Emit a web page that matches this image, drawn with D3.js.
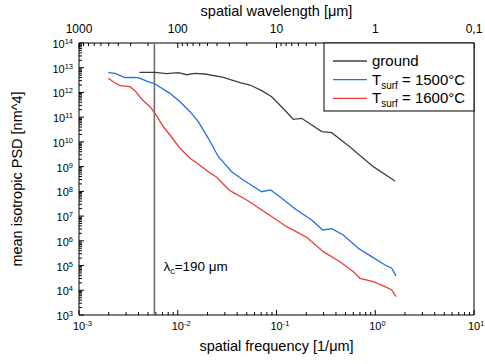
<!DOCTYPE html>
<html>
<head>
<meta charset="utf-8">
<script src="https://cdn.jsdelivr.net/npm/d3@7"></script>
<style>
  body { margin: 0; background: #fff; }
  text { font-family: "Liberation Sans", Arial, sans-serif; fill: #000; }
</style>
</head>
<body>
<div id="chart"></div>
<script>
// spatial frequency [1/um] and PSD [nm^4]
const groundFreq = [0.00408, 0.00589, 0.00773, 0.0101, 0.01233, 0.01496, 0.01888, 0.0289, 0.0427, 0.054, 0.0708, 0.0893, 0.108, 0.148, 0.18, 0.287, 0.362, 0.555, 0.955, 1.585];
const groundPsd = [6.5e12, 6.5e12, 5.74e12, 6.3e12, 5.2e12, 5.96e12, 5.57e12, 4.1e12, 2.48e12, 2.0e12, 1.18e12, 6.7e11, 3.1e11, 8.2e10, 9.0e10, 2.6e10, 2.36e10, 6.2e9, 1.0e9, 2.63e8];

const t1500Freq = [0.00198, 0.00232, 0.00292, 0.00342, 0.00398, 0.00485, 0.00589, 0.00835, 0.01054, 0.0133, 0.01614, 0.0204, 0.0258, 0.0352, 0.0461, 0.0708, 0.0873, 0.108, 0.160, 0.227, 0.294, 0.362, 0.474, 0.673, 0.92, 1.256, 1.468, 1.622];
const t1500Psd = [6.3e12, 5.96e12, 3.95e12, 4.1e12, 3.95e12, 2.9e12, 2.2e12, 9.2e11, 4.2e11, 1.67e11, 6.6e10, 1.4e10, 2.52e9, 6.25e8, 2.88e8, 9.7e7, 1.14e8, 6.1e7, 1.77e7, 6.97e6, 2.74e6, 3.1e6, 1.72e6, 5.0e5, 2.29e5, 1.05e5, 7.8e4, 3.8e4];

const t1600Freq = [0.00198, 0.00222, 0.0026, 0.00328, 0.00369, 0.00432, 0.00524, 0.00612, 0.00715, 0.00835, 0.01054, 0.0133, 0.01614, 0.0204, 0.0248, 0.0325, 0.0352, 0.0499, 0.0796, 0.127, 0.202, 0.298, 0.44, 0.6, 0.702, 0.955, 1.256, 1.468, 1.622];
const t1600Psd = [3.74e12, 2.72e12, 1.88e12, 1.71e12, 1.18e12, 5.3e11, 2.65e11, 1.12e11, 4.1e10, 1.9e10, 5.5e9, 2.18e9, 1.28e9, 6.25e8, 3.7e8, 1.21e8, 9.7e7, 4.5e7, 1.3e7, 3.73e6, 1.39e6, 3.64e5, 1.43e5, 5.65e4, 3.05e4, 2.23e4, 1.4e4, 1.03e4, 5.5e3];

const seriesNames = ['ground', '1500', '1600'];
const seriesColors = ['#404040', '#1f6fe6', '#ec3b3b'];

// cut-off marker
const cutoffFreq = 0.0058;
const cutoffLabel = '=190 μm';

// axis ticks
const freqTickExp = [-3, -2, -1, 0, 1];
const psdTickExp = [3, 4, 5, 6, 7, 8, 9, 10, 11, 12, 13, 14];
const waveTicks = [1000, 100, 10, 1, 0.1];
const waveTickLabels = ['1000', '100', '10', '1', '0,1'];

const width = 485, height = 364;
const margin = {top: 43, right: 11, bottom: 49, left: 79};
const innerW = width - margin.left - margin.right;
const innerH = height - margin.top - margin.bottom;

const svg = d3.select('#chart').append('svg')
    .attr('width', width)
    .attr('height', height);

const g = svg.append('g')
    .attr('transform', 'translate(' + margin.left + ',' + margin.top + ')');

const x = d3.scaleLog().domain([1e-3, 1e1]).range([0, innerW]);
const y = d3.scaleLog().domain([1e3, 1e14]).range([innerH, 0]);
const xWave = d3.scaleLog().domain([1000, 0.1]).range([0, innerW]);

// minor ticks 2..9 for each decade
function minorTicks(scale) {
    const d = scale.domain();
    const lo = Math.min(d[0], d[1]), hi = Math.max(d[0], d[1]);
    const out = [];
    for (let e = Math.floor(Math.log10(lo)); e < Math.ceil(Math.log10(hi)); e++) {
        for (let m = 2; m <= 9; m++) {
            const v = m * Math.pow(10, e);
            if (v > lo && v < hi) out.push(v);
        }
    }
    return out;
}

function powerLabel(sel, exp) {
    sel.text('10');
    sel.append('tspan').attr('dy', -4).attr('font-size', 7.5).text(exp);
}

// bottom axis
const xAxis = g.append('g').attr('transform', 'translate(0,' + innerH + ')');
xAxis.append('line').attr('x1', 0).attr('x2', innerW).attr('stroke', '#000');
xAxis.selectAll('.major').data(freqTickExp).enter().append('line')
    .attr('x1', d => x(Math.pow(10, d))).attr('x2', d => x(Math.pow(10, d)))
    .attr('y1', 0).attr('y2', -5).attr('stroke', '#000');
xAxis.selectAll('.minor').data(minorTicks(x)).enter().append('line')
    .attr('x1', d => x(d)).attr('x2', d => x(d))
    .attr('y1', 0).attr('y2', -3).attr('stroke', '#000');
xAxis.selectAll('.lbl').data(freqTickExp).enter().append('text')
    .attr('x', d => x(Math.pow(10, d)) - 6).attr('y', 15)
    .attr('font-size', 11)
    .each(function(d) { powerLabel(d3.select(this), d); });

// left axis
const yAxis = g.append('g');
yAxis.append('line').attr('y1', 0).attr('y2', innerH).attr('stroke', '#000');
yAxis.selectAll('.major').data(psdTickExp).enter().append('line')
    .attr('y1', d => y(Math.pow(10, d))).attr('y2', d => y(Math.pow(10, d)))
    .attr('x1', 0).attr('x2', 5).attr('stroke', '#000');
yAxis.selectAll('.minor').data(minorTicks(y)).enter().append('line')
    .attr('y1', d => y(d)).attr('y2', d => y(d))
    .attr('x1', 0).attr('x2', 3).attr('stroke', '#000');
yAxis.selectAll('.lbl').data(psdTickExp).enter().append('text')
    .attr('x', -6).attr('y', d => y(Math.pow(10, d)) + 5)
    .attr('text-anchor', 'end').attr('font-size', 11)
    .each(function(d) { powerLabel(d3.select(this), d); });

// top axis (wavelength)
const topAxis = g.append('g');
topAxis.append('line').attr('x1', 0).attr('x2', innerW).attr('stroke', '#000');
topAxis.selectAll('.major').data(waveTicks).enter().append('line')
    .attr('x1', d => xWave(d)).attr('x2', d => xWave(d))
    .attr('y1', 0).attr('y2', 5).attr('stroke', '#000');
topAxis.selectAll('.minor').data(minorTicks(xWave)).enter().append('line')
    .attr('x1', d => xWave(d)).attr('x2', d => xWave(d))
    .attr('y1', 0).attr('y2', 3).attr('stroke', '#000');
topAxis.selectAll('.lbl').data(waveTicks).enter().append('text')
    .attr('x', d => xWave(d)).attr('y', -10)
    .attr('text-anchor', 'middle').attr('font-size', 12)
    .text((d, i) => waveTickLabels[i]);

// right axis
g.append('line').attr('x1', innerW).attr('x2', innerW)
    .attr('y1', 0).attr('y2', innerH).attr('stroke', '#000');

// axis titles
svg.append('text').attr('x', margin.left + innerW / 2).attr('y', 16)
    .attr('text-anchor', 'middle').attr('font-size', 14.5).text('spatial wavelength [μm]');
svg.append('text').attr('x', margin.left + innerW / 2).attr('y', 351)
    .attr('text-anchor', 'middle').attr('font-size', 14.5).text('spatial frequency [1/μm]');
svg.append('text')
    .attr('transform', 'translate(22,' + (margin.top + innerH / 2) + ') rotate(-90)')
    .attr('text-anchor', 'middle').attr('font-size', 14.5).text('mean isotropic PSD [nm^4]');

// cut-off line
g.append('line')
    .attr('x1', x(cutoffFreq)).attr('x2', x(cutoffFreq))
    .attr('y1', 0).attr('y2', innerH)
    .attr('stroke', '#6e6e6e').attr('stroke-width', 1.6);
const cl = g.append('text').attr('x', x(cutoffFreq) + 9).attr('y', 228).attr('font-size', 13.5);
cl.append('tspan').text('λ');
cl.append('tspan').attr('dy', 3).attr('font-size', 9).text('c');
cl.append('tspan').attr('dy', -3).text(cutoffLabel);

// series lines
const line = d3.line()
    .x(d => x(d[0]))
    .y(d => y(d[1]));

const series = [
    d3.zip(groundFreq, groundPsd),
    d3.zip(t1500Freq, t1500Psd),
    d3.zip(t1600Freq, t1600Psd)
];

g.selectAll('.series').data(series).enter().append('path')
    .attr('fill', 'none')
    .attr('stroke', (d, i) => seriesColors[i])
    .attr('stroke-width', 1.3)
    .attr('d', line);

// legend
const lg = g.append('g').attr('transform', 'translate(' + (innerW - 150) + ',0)');
lg.append('rect').attr('width', 150).attr('height', 68)
    .attr('fill', '#fff').attr('stroke', '#000');
seriesNames.forEach((name, i) => {
    const ly = 18 + i * 18.7;
    lg.append('line').attr('x1', 9).attr('x2', 43).attr('y1', ly).attr('y2', ly)
        .attr('stroke', seriesColors[i]).attr('stroke-width', 1.3);
    const t = lg.append('text').attr('x', 48).attr('y', ly + 5).attr('font-size', 15);
    if (name === 'ground') {
        t.text('ground');
    } else {
        t.append('tspan').text('T');
        t.append('tspan').attr('dy', 4).attr('font-size', 10).text('surf');
        t.append('tspan').attr('dy', -4).text(' = ' + name + '°C');
    }
});
</script>
</body>
</html>
